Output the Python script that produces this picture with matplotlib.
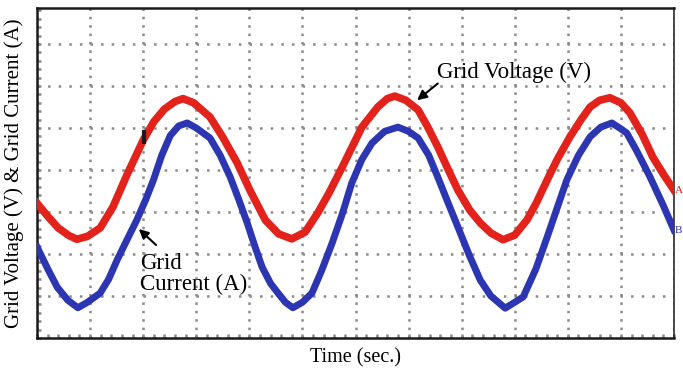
import matplotlib
matplotlib.use('Agg')
import matplotlib.pyplot as plt
from matplotlib.ticker import MultipleLocator

# scope trace readings, in screen divisions (12 x 8 grid)
voltage_x = [0.00, 0.20, 0.40, 0.60, 0.75, 0.95, 1.19, 1.43, 1.70, 2.00, 2.20, 2.40, 2.60, 2.75,
             2.95, 3.26, 3.50, 3.77, 4.01, 4.30, 4.55, 4.80, 5.05, 5.29, 5.50, 5.75, 6.12, 6.42,
             6.60, 6.74, 6.95, 7.18, 7.35, 7.55, 7.75, 7.93, 8.15, 8.35, 8.55, 8.78, 9.00, 9.23,
             9.40, 9.61, 9.80, 10.04, 10.25, 10.42, 10.60, 10.79, 11.00, 11.17, 11.40, 11.60,
             11.80, 12.00]
voltage_y = [3.21, 2.90, 2.62, 2.44, 2.35, 2.42, 2.62, 3.12, 3.90, 4.71, 5.15, 5.45, 5.63, 5.70,
             5.60, 5.26, 4.78, 4.17, 3.52, 2.81, 2.48, 2.36, 2.52, 2.98, 3.45, 4.07, 5.02, 5.50,
             5.70, 5.76, 5.66, 5.43, 5.05, 4.55, 4.00, 3.52, 3.05, 2.74, 2.50, 2.34, 2.45, 2.81,
             3.20, 3.76, 4.25, 4.79, 5.20, 5.50, 5.66, 5.72, 5.60, 5.36, 4.85, 4.31,
             3.90, 3.52]

current_x = [0.00, 0.20, 0.38, 0.58, 0.77, 0.95, 1.19, 1.35, 1.51, 1.70, 1.88, 2.05, 2.19, 2.35,
             2.51, 2.67, 2.83, 3.00, 3.26, 3.45, 3.64, 3.80, 3.96, 4.10, 4.24, 4.40, 4.54, 4.68,
             4.82, 5.00, 5.18, 5.36, 5.56, 5.75, 5.93, 6.12, 6.31, 6.55, 6.80, 7.00, 7.18, 7.38,
             7.55, 7.75, 7.93, 8.15, 8.35, 8.55, 8.82, 9.00, 9.16, 9.40, 9.61, 9.80, 9.98, 10.20,
             10.42, 10.62, 10.83, 11.00, 11.11, 11.30, 11.55, 11.80, 12.00]
current_y = [2.17, 1.65, 1.21, 0.90, 0.72, 0.85, 1.07, 1.40, 1.86, 2.35, 2.81, 3.30, 3.75, 4.35,
             4.82, 5.05, 5.12, 5.00, 4.76, 4.35, 3.83, 3.30, 2.74, 2.20, 1.69, 1.30, 1.07, 0.85,
             0.72, 0.85, 1.07, 1.60, 2.26, 2.95, 3.69, 4.25, 4.64, 4.92, 5.02, 4.92, 4.76, 4.35,
             3.83, 3.20, 2.64, 1.95, 1.38, 1.00, 0.71, 0.85, 0.98, 1.65, 2.40, 3.10, 3.76, 4.35,
             4.79, 5.02, 5.12, 4.98, 4.88, 4.45, 3.83, 3.15, 2.57]

# small cursor mark sitting on the voltage trace
mark_x = [2.02]
mark_y = [4.78]

plt.rcParams['font.family'] = 'Liberation Serif'

fig = plt.figure(figsize=(6.83, 3.72), dpi=100)
ax = fig.add_axes([0.0542, 0.0914, 0.9326, 0.8871])

ax.plot(voltage_x, voltage_y, color='#e3221c', lw=5.5, solid_joinstyle='round', zorder=3)
ax.plot(current_x, current_y, color='#2c35b2', lw=5.0, solid_joinstyle='round', zorder=3)
ax.plot(mark_x, mark_y, marker='|', ms=10, mew=3, color='#1a1a1a', zorder=4)

ax.set_xlim(0, 12)
ax.set_ylim(0, 7.857)
ax.xaxis.set_major_locator(MultipleLocator(1))
ax.yaxis.set_major_locator(MultipleLocator(1))
ax.xaxis.set_minor_locator(MultipleLocator(0.2))
ax.yaxis.set_minor_locator(MultipleLocator(0.2))
ax.set_xticklabels([])
ax.set_yticklabels([])
ax.tick_params(which='both', direction='in', length=3, width=1.8, color='#8a8a8a',
               left=True, bottom=True, top=False, right=False)

# dotted scope graticule
ax.xaxis.grid(True, color='#8a8a8a', lw=1.8, linestyle=(0, (1.0, 2.36)))
ax.yaxis.grid(True, color='#8a8a8a', lw=1.8, linestyle=(0, (1.0, 3.24)))
ax.set_axisbelow(True)

for s in ['left', 'bottom', 'top']:
    ax.spines[s].set_linewidth(1.8)
    ax.spines[s].set_color('#1a1a1a')
ax.spines['right'].set_linewidth(1.1)
ax.spines['right'].set_color('#1a1a1a')

ax.set_xlabel('Time (sec.)', fontsize=14.5, labelpad=4)
ax.set_ylabel('Grid Voltage (V) & Grid Current (A)', fontsize=15, labelpad=6)

ax.text(7.54, 6.33, 'Grid Voltage (V)', fontsize=16.5, ha='left', va='center')
ax.annotate('', xy=(7.12, 5.62), xytext=(7.59, 6.10),
            arrowprops=dict(arrowstyle='-|>', color='black', lw=1.5, mutation_scale=14))
ax.text(1.94, 2.02, 'Grid\nCurrent (A)', fontsize=16.5, ha='left', va='top', linespacing=1.0)
ax.annotate('', xy=(1.88, 2.64), xytext=(2.28, 2.17),
            arrowprops=dict(arrowstyle='-|>', color='black', lw=1.5, mutation_scale=14))

# channel labels at the right edge of the screen
ax.annotate('A', xy=(12, voltage_y[-1]), xytext=(0.5, 0), textcoords='offset points',
            color='#e3221c', fontsize=8, ha='left', va='center', annotation_clip=False)
ax.annotate('B', xy=(12, current_y[-1]), xytext=(0.5, 0), textcoords='offset points',
            color='#2c35b2', fontsize=8, ha='left', va='center', annotation_clip=False)

fig.savefig('out.png', dpi=100)
